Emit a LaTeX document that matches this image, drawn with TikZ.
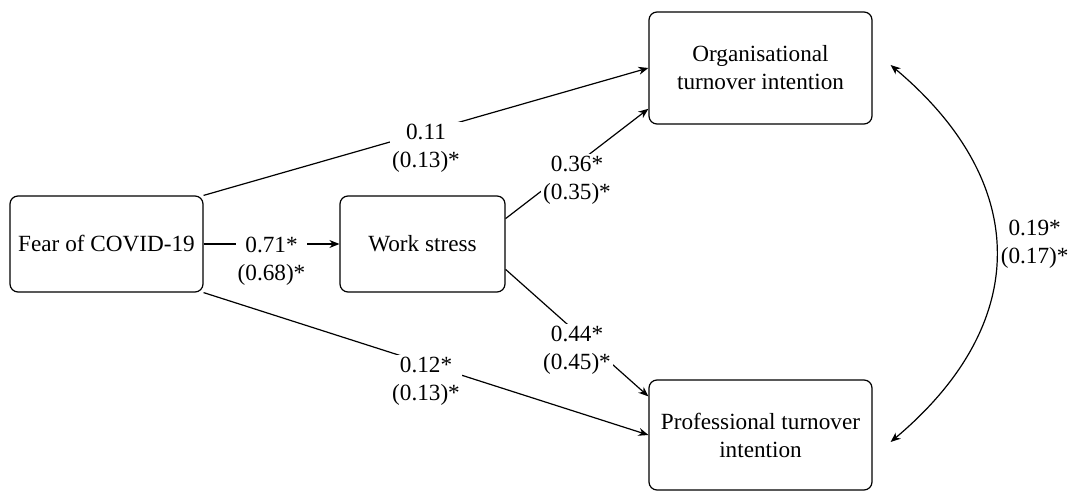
\documentclass[tikz,border=0pt]{standalone}
\usepackage{fontspec}
\setmainfont{Liberation Serif}
\usetikzlibrary{arrows.meta}
\begin{document}
\begin{tikzpicture}[x=0.5pt, y=0.5pt, line width=0.6pt,
  >={Stealth[length=5pt, width=4pt]},
  font=\fontsize{11.6}{14}\selectfont,
  box/.style={draw, rounded corners=4pt, align=center, inner sep=2pt},
  coef/.style={fill=white, align=center, inner sep=1pt, anchor=north, yshift=4.9pt}]
\useasboundingbox (0,0) rectangle (1072,492);
\node [box, minimum width=96.5pt, minimum height=48pt] (fear) at (106.5,248) {Fear of COVID-19};
\node [box, minimum width=82.5pt, minimum height=48pt] (work) at (422.5,248) {Work stress};
\node [box, minimum width=111.5pt, minimum height=56pt] (org) at (760.5,424) {Organisational\\turnover intention};
\node [box, minimum width=111.5pt, minimum height=55pt] (prof) at (760.5,57) {Professional turnover\\intention};
\coordinate (oe) at ([xshift=9pt, yshift=1.5pt]org.east);
\coordinate (pe) at ([xshift=9pt, yshift=-3.5pt]prof.east);
\draw [->] (fear.east) -- (work.west) node [coef, midway] {0.71*\\(0.68)*};
\draw [->] (fear.north east) -- (org.west) node [coef, midway] {0.11\\(0.13)*};
\draw [->] (fear.south east) -- (prof.west) node [coef, midway] {0.12*\\(0.13)*};
\draw [->] (work.17) -- (org.200) node [coef, midway] {0.36*\\(0.35)*};
\draw [->] (work.-17) -- (prof.161) node [coef, midway] {0.44*\\(0.45)*};
\draw [<->] (oe) to [out=-40, in=40, looseness=1.25]
  node [midway, anchor=west, align=center, inner sep=1pt, xshift=1pt, yshift=4.5pt] {0.19*\\(0.17)*} (pe);
\end{tikzpicture}
\end{document}
